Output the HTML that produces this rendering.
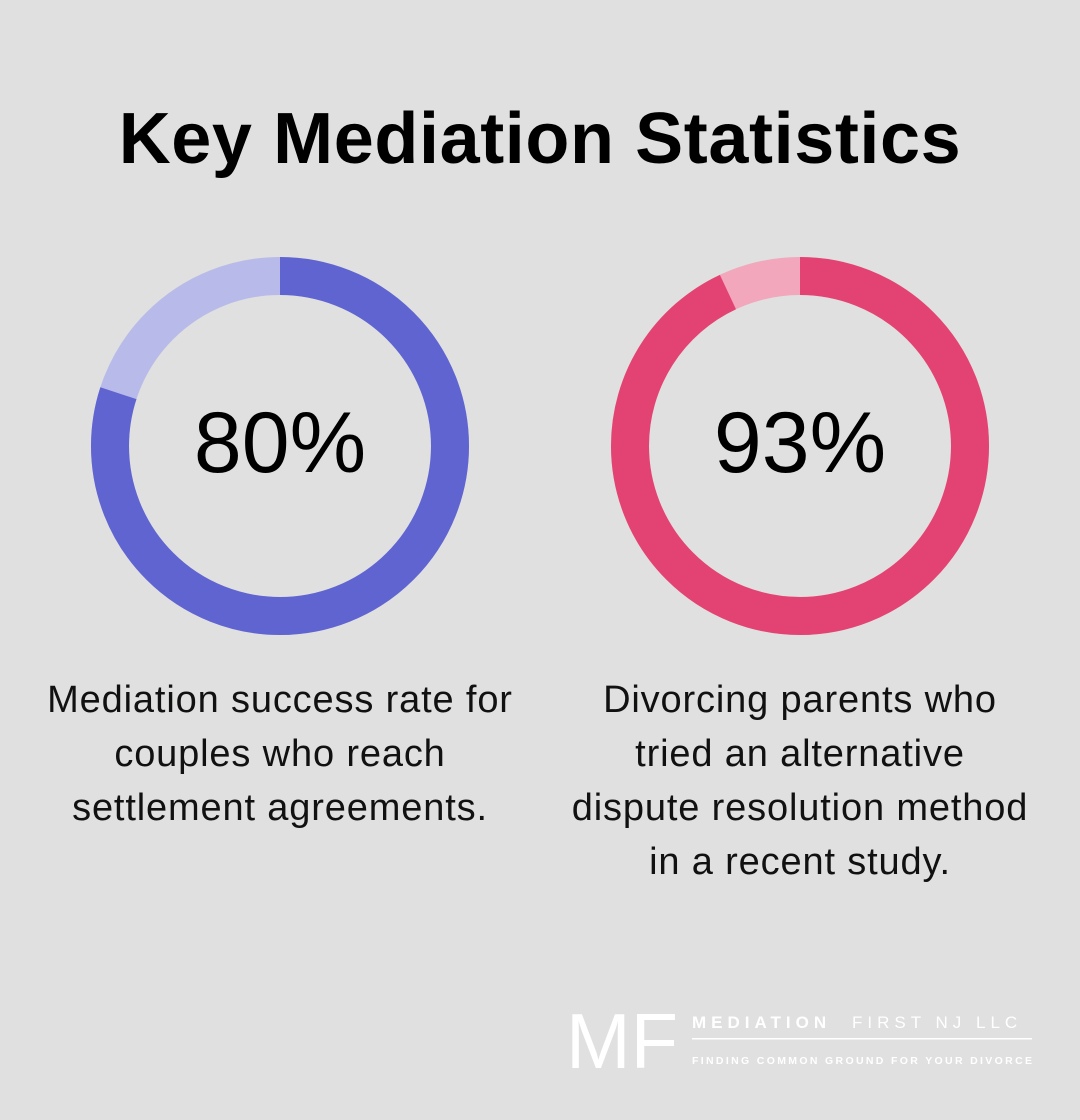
<!DOCTYPE html>
<html><head><meta charset="utf-8"><style>
body{margin:0;width:1080px;height:1120px;background:#dfe0df;font-family:"Liberation Sans",sans-serif;position:relative;overflow:hidden}
.t{position:absolute;left:0;width:1080px;top:98px;text-align:center;font-weight:bold;font-size:72px;color:#000;letter-spacing:0.6px}
.p{position:absolute;width:400px;text-align:center;font-size:86px;color:#000;top:394px}
.d{position:absolute;width:560px;text-align:center;font-size:38px;line-height:54px;color:#111;top:673px;letter-spacing:0.85px}
</style></head><body>
<div class="t">Key Mediation Statistics</div>
<svg width="1080" height="1120" style="position:absolute;left:0;top:0">
<g transform="rotate(-90 280 446)">
<circle cx="280" cy="446" r="170" fill="none" stroke="#b8bbe9" stroke-width="38"/>
<circle cx="280" cy="446" r="170" fill="none" stroke="#6064d0" stroke-width="38" stroke-dasharray="854.5 2000"/>
</g>
<g transform="rotate(-90 800 446)">
<circle cx="800" cy="446" r="170" fill="none" stroke="#f2a7bc" stroke-width="38"/>
<circle cx="800" cy="446" r="170" fill="none" stroke="#e34372" stroke-width="38" stroke-dasharray="993.3 2000"/>
</g>
<g fill="#fff">
<text x="566" y="1068" font-size="78" font-family="Liberation Sans" font-weight="300" textLength="112" lengthAdjust="spacingAndGlyphs">MF</text>
<text x="692" y="1028" font-size="17" font-weight="bold" letter-spacing="5">MEDIATION</text>
<text x="852" y="1028" font-size="17" letter-spacing="5">FIRST NJ LLC</text>
<rect x="692" y="1038" width="340" height="1.5"/>
<text x="692" y="1064" font-size="10.5" font-weight="bold" textLength="340" lengthAdjust="spacing">FINDING COMMON GROUND FOR YOUR DIVORCE</text>
</g>
</svg>
<div class="p" style="left:80px">80%</div>
<div class="p" style="left:600px">93%</div>
<div class="d" style="left:0px">Mediation success rate for<br>couples who reach<br>settlement agreements.</div>
<div class="d" style="left:520px">Divorcing parents who<br>tried an alternative<br>dispute resolution method<br>in a recent study.</div>
</body></html>
